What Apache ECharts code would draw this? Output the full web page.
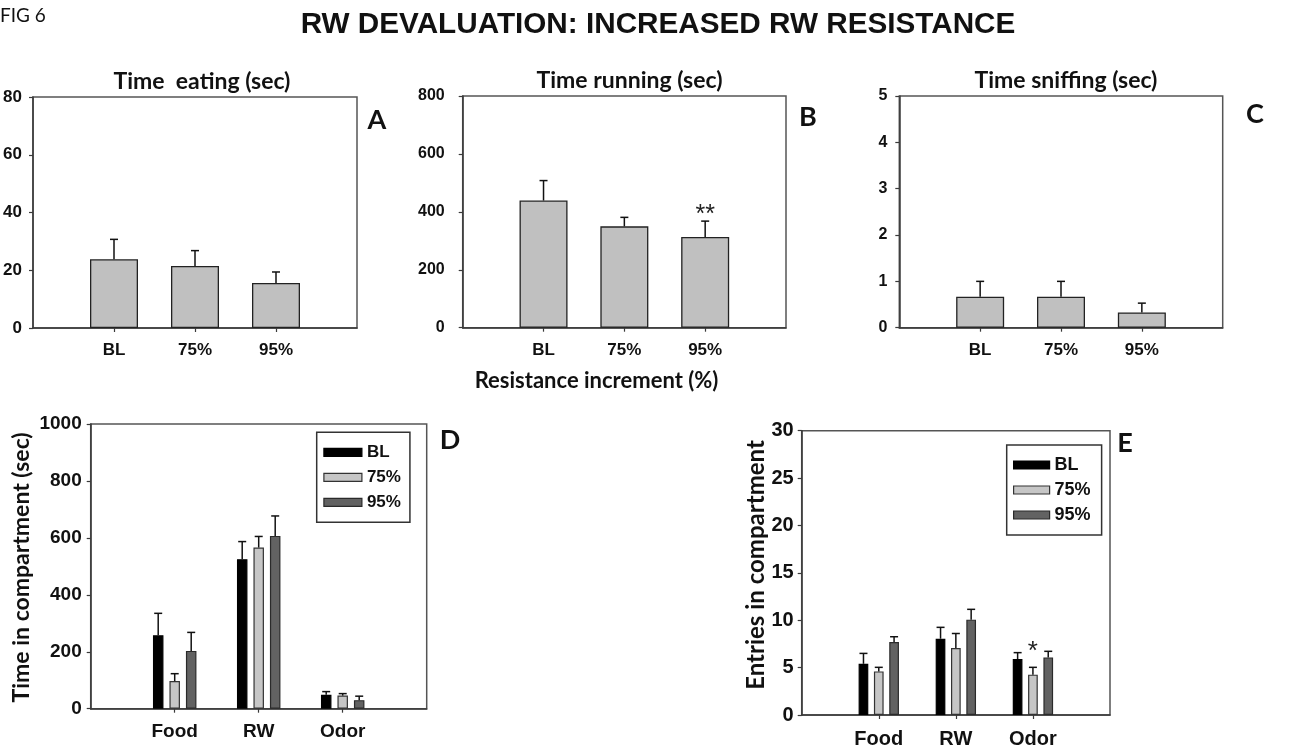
<!DOCTYPE html>
<html>
<head>
<meta charset="utf-8">
<script src="https://cdn.jsdelivr.net/npm/echarts@6/dist/echarts.min.js"></script>
<style>
  html, body { margin: 0; padding: 0; background: #fff; }
  #chart { width: 1293px; height: 751px; }
</style>
</head>
<body>
<div id="chart"></div>
<script>
// ---- data ----
const resistanceLevels = ['BL', '75%', '95%'];
const compartments = ['Food', 'RW', 'Odor'];

// A: time eating (sec)
const eatingMean = [23.8, 21.5, 15.6];
const eatingSem = [6.9, 5.3, 3.8];
// B: time running (sec)
const runningMean = [439, 350, 313];
const runningSem = [69, 31, 55];
const runningSig = ['', '', '**'];
// C: time sniffing (sec)
const sniffingMean = [0.67, 0.67, 0.33];
const sniffingSem = [0.33, 0.33, 0.2];

// D: time in compartment (sec), per resistance level, over Food / RW / Odor
const timeBL = [258, 525, 49];
const timeBLSem = [77, 62, 11];
const time75 = [97, 566, 46];
const time75Sem = [26, 39, 7];
const time95 = [203, 607, 30];
const time95Sem = [65, 70, 14];

// E: entries in compartment
const entriesBL = [5.4, 8.05, 5.9];
const entriesBLSem = [1.1, 1.2, 0.68];
const entries75 = [4.6, 7.07, 4.26];
const entries75Sem = [0.43, 1.53, 0.77];
const entries75Sig = ['', '', '*'];
const entries95 = [7.7, 10.06, 6.08];
const entries95Sem = [0.56, 1.09, 0.64];

// y-axis ranges
const yA = { min: 0, max: 80, interval: 20 };
const yB = { min: 0, max: 800, interval: 200 };
const yC = { min: 0, max: 5, interval: 1 };
const yD = { min: 0, max: 1000, interval: 200 };
const yE = { min: 0, max: 30, interval: 5 };

// ---- styling helpers ----
const ARIAL = "'Liberation Sans', Arial, sans-serif";
const NARROW = "'Liberation Sans Narrow', 'Arial Narrow', 'Liberation Sans', sans-serif";
const CAL = "Lato, 'Open Sans', sans-serif";
const AXIS_COLOR = '#3a3a3a';

// pad the three categories with an empty slot on each side
const pad = arr => ['', ...arr, ''];
const padVals = arr => ['-', ...arr, '-'];
const innerOnly = (idx) => idx > 0 && idx < 4;

function xAxis(gridIndex, cats, font, size, margin) {
  return {
    type: 'category', gridIndex, data: pad(cats), boundaryGap: false,
    axisLine: { show: true, lineStyle: { color: AXIS_COLOR, width: 1.5 } },
    axisTick: { show: true, interval: innerOnly, length: 4, inside: false, lineStyle: { color: AXIS_COLOR, width: 1.2 } },
    axisLabel: { interval: 0, margin, color: '#111', fontFamily: font, fontWeight: 'bold', fontSize: size },
    splitLine: { show: false }
  };
}
function yAxis(gridIndex, rng, font, size, margin) {
  return {
    type: 'value', gridIndex, min: rng.min, max: rng.max, interval: rng.interval,
    axisLine: { show: true, lineStyle: { color: AXIS_COLOR, width: 1.5 } },
    axisTick: { show: true, length: 4, inside: false, lineStyle: { color: AXIS_COLOR, width: 1.2 } },
    axisLabel: { margin, color: '#111', fontFamily: font, fontWeight: 'bold', fontSize: size, formatter: v => String(v) },
    splitLine: { show: false }
  };
}
function grid(left, top, width, height) {
  return { left, top, width, height, show: true, borderColor: '#555', borderWidth: 1.5, backgroundColor: 'transparent', outerBoundsMode: 'none' };
}

// error bar (upper whisker with cap) plus optional significance text
function errorBars(axisIdx, means, sems, offsetPx, capHalf, sig, sigGap, sigFont, sigSize) {
  return {
    type: 'custom', xAxisIndex: axisIdx, yAxisIndex: axisIdx, z: 5, silent: true,
    data: means.map((m, k) => [k + 1, m, sems[k]]),
    renderItem(params, api) {
      const i = api.value(0), m = api.value(1), s = api.value(2);
      const base = api.coord([i, m]);
      const top = api.coord([i, m + s]);
      const x = base[0] + offsetPx;
      const children = [
        { type: 'line', shape: { x1: x, y1: base[1], x2: x, y2: top[1] }, style: { stroke: '#111', lineWidth: 1.5 } },
        { type: 'line', shape: { x1: x - capHalf, y1: top[1], x2: x + capHalf, y2: top[1] }, style: { stroke: '#111', lineWidth: 1.5 } }
      ];
      const label = sig ? sig[params.dataIndex] : '';
      if (label) {
        children.push({
          type: 'text', x: x, y: top[1] - sigGap,
          style: { text: label, fill: '#222', fontFamily: sigFont, fontSize: sigSize, align: 'center', verticalAlign: 'middle' }
        });
      }
      return { type: 'group', children };
    }
  };
}

function singleBar(axisIdx, means, width) {
  return {
    type: 'bar', xAxisIndex: axisIdx, yAxisIndex: axisIdx, barWidth: width,
    data: padVals(means), silent: true,
    itemStyle: { color: '#c0c0c0', borderColor: '#222', borderWidth: 1.3 }
  };
}

const levelStyles = [
  { color: '#000000', borderColor: '#000000', borderWidth: 1.2 },
  { color: '#c6c6c6', borderColor: '#333333', borderWidth: 1.2 },
  { color: '#626262', borderColor: '#2a2a2a', borderWidth: 1.2 }
];

function groupBar(axisIdx, name, means, width, gap, styleIdx) {
  return {
    type: 'bar', name, xAxisIndex: axisIdx, yAxisIndex: axisIdx, barWidth: width, barGap: gap,
    data: padVals(means), silent: true, itemStyle: levelStyles[styleIdx]
  };
}

function legend(left, top, font, size, itemWidth, textGap, padding) {
  return {
    orient: 'vertical', left, top, selectedMode: false,
    backgroundColor: '#fff', borderColor: '#333', borderWidth: 1.5, borderRadius: 0,
    padding, itemWidth, itemHeight: 8, itemGap: 5, itemTextGap: textGap,
    icon: 'rect',
    data: resistanceLevels.map((n, k) => ({ name: n, itemStyle: levelStyles[k] })),
    textStyle: { fontFamily: font, fontWeight: 'bold', fontSize: size, color: '#111', lineHeight: 20 }
  };
}

function txt(x, y, text, family, size, weight, extra, align) {
  return Object.assign({
    type: 'text', x, y, silent: true,
    style: { text, fill: '#111', fontFamily: family, fontSize: size, fontWeight: weight, align: align || 'center', verticalAlign: 'middle' }
  }, extra || {});
}

const chart = echarts.init(document.getElementById('chart'), null, { renderer: 'canvas' });

const option = {
  animation: false,
  backgroundColor: '#ffffff',
  grid: [
    grid(33, 97, 324, 231),        // A
    grid(462.7, 96, 323.3, 231.7), // B
    grid(899.3, 96, 323.4, 231.7), // C
    grid(90.7, 424, 336, 284.7),   // D
    grid(801.7, 430.7, 308.3, 284.3) // E
  ],
  xAxis: [
    xAxis(0, resistanceLevels, ARIAL, 17, 14),
    xAxis(1, resistanceLevels, ARIAL, 17, 14),
    xAxis(2, resistanceLevels, ARIAL, 17, 14),
    xAxis(3, compartments, ARIAL, 19, 14),
    xAxis(4, compartments, NARROW, 20, 14)
  ],
  yAxis: [
    yAxis(0, yA, ARIAL, 17, 11),
    yAxis(1, yB, ARIAL, 16, 18),
    yAxis(2, yC, ARIAL, 16, 12),
    yAxis(3, yD, ARIAL, 19, 9),
    yAxis(4, yE, NARROW, 20, 8)
  ],
  legend: [
    legend(316.7, 432.3, ARIAL, 17, 38, 9, [10, 9, 10, 6.6]),
    legend(1006.7, 445, NARROW, 18, 36, 7.7, [10, 11, 10, 6.3])
  ],
  series: [
    singleBar(0, eatingMean, 48),
    errorBars(0, eatingMean, eatingSem, 0, 4, null),
    singleBar(1, runningMean, 48),
    errorBars(1, runningMean, runningSem, 0, 4, runningSig, 6, ARIAL, 25),
    singleBar(2, sniffingMean, 48),
    errorBars(2, sniffingMean, sniffingSem, 0, 4, null),

    groupBar(3, 'BL', timeBL, 10.5, '57%', 0),
    groupBar(3, '75%', time75, 10.5, '57%', 1),
    groupBar(3, '95%', time95, 10.5, '57%', 2),
    errorBars(3, timeBL, timeBLSem, -16.5, 4, null),
    errorBars(3, time75, time75Sem, 0, 4, null),
    errorBars(3, time95, time95Sem, 16.5, 4, null),

    groupBar(4, 'BL', entriesBL, 9.7, '58%', 0),
    groupBar(4, '75%', entries75, 9.7, '58%', 1),
    groupBar(4, '95%', entries95, 9.7, '58%', 2),
    errorBars(4, entriesBL, entriesBLSem, -15.3, 4, null),
    errorBars(4, entries75, entries75Sem, 0, 4, entries75Sig, 16, ARIAL, 26),
    errorBars(4, entries95, entries95Sem, 15.3, 4, null)
  ],
  graphic: [
    txt(0, 16, 'FIG 6', CAL, 19, 'normal', null, 'left'),
    txt(658, 25, 'RW DEVALUATION: INCREASED RW RESISTANCE', ARIAL, 29.7, 'bold'),
    txt(202, 82, 'Time  eating (sec)', CAL, 23, 'bold'),
    txt(629.5, 81, 'Time running (sec)', CAL, 23, 'bold'),
    txt(1066, 81, 'Time sniffing (sec)', CAL, 23, 'bold'),
    txt(377, 120, 'A', CAL, 27, 'bold'),
    txt(808, 117, 'B', CAL, 27, 'bold'),
    txt(1255, 114, 'C', CAL, 27, 'bold'),
    txt(450, 440, 'D', CAL, 27, 'bold'),
    txt(1125, 443, 'E', CAL, 27, 'bold'),
    txt(596.5, 381, 'Resistance increment (%)', CAL, 22, 'bold'),
    txt(21.7, 567.4, 'Time in compartment (sec)', CAL, 23, 'bold', { rotation: Math.PI / 2 }),
    txt(756.7, 565, 'Entries in compartment', CAL, 24, 'bold', { rotation: Math.PI / 2 })
  ]
};

chart.setOption(option);
</script>
</body>
</html>
